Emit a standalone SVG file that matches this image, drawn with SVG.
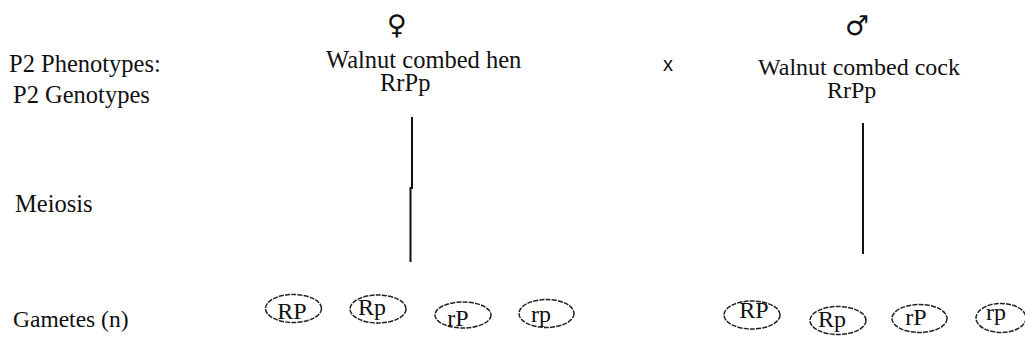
<svg xmlns="http://www.w3.org/2000/svg" width="1025" height="342" viewBox="0 0 1025 342">
<style>
.gam{fill:none;stroke:#222;stroke-width:1.5;stroke-dasharray:5 1.2}
.ln{stroke:#111;stroke-width:2;fill:none}
</style>
<g font-family="'Liberation Serif', serif" font-size="24.5" fill="#111">
<g id="labels">
<text x="9" y="72">P2 Phenotypes:</text>
<text x="13" y="103">P2 Genotypes</text>
<text x="15" y="212">Meiosis</text>
<text x="13" y="327" font-size="23.5">Gametes (n)</text>
</g>
<g id="female">
<text x="397" y="34" font-family="'DejaVu Sans', sans-serif" font-size="27" text-anchor="middle">♀</text>
<text x="326" y="68">Walnut combed hen</text>
<text x="380" y="91">RrPp</text>
</g>
<g id="cross">
<text x="663" y="71" font-family="'Liberation Sans', Arial, sans-serif" font-size="20">x</text>
</g>
<g id="male">
<text x="857" y="35" font-family="'DejaVu Sans', sans-serif" font-size="27" text-anchor="middle">♂</text>
<text x="758" y="75" font-size="24">Walnut combed cock</text>
<text x="827" y="98" font-size="24">RrPp</text>
</g>
</g>
<g id="connectors">
<path class="ln" d="M412 117V188H410.5V262"/>
<path class="ln" d="M863 123V254"/>
</g>
<g font-family="'Liberation Serif', serif" font-size="24" fill="#111" text-anchor="middle">
<g id="gamete-f-RP"><ellipse class="gam" cx="293.5" cy="308.5" rx="28" ry="14"/><text x="292" y="319">RP</text></g>
<g id="gamete-f-Rp"><ellipse class="gam" cx="378" cy="309" rx="28" ry="14"/><text x="372" y="315">Rp</text></g>
<g id="gamete-f-rP"><ellipse class="gam" cx="463" cy="315" rx="28" ry="13"/><text x="458" y="326">rP</text></g>
<g id="gamete-f-rp"><ellipse class="gam" cx="546.5" cy="313.5" rx="27.5" ry="14"/><text x="541" y="322">rp</text></g>
<g id="gamete-m-RP"><ellipse class="gam" cx="752" cy="315" rx="28" ry="14"/><text x="754" y="318">RP</text></g>
<g id="gamete-m-Rp"><ellipse class="gam" cx="838" cy="320.5" rx="28" ry="14"/><text x="832" y="327">Rp</text></g>
<g id="gamete-m-rP"><ellipse class="gam" cx="919.5" cy="318.5" rx="27.5" ry="14"/><text x="916" y="325">rP</text></g>
<g id="gamete-m-rp"><ellipse class="gam" cx="1001" cy="318" rx="25" ry="14.5"/><text x="996" y="320">rp</text></g>
</g>
</svg>
